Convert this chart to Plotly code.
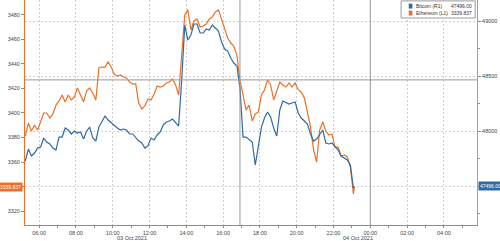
import pandas as pd
import plotly.graph_objects as go

# ---- data ----
start_time = "2021-10-03 05:15"
n_grid = 108
last_time = "2021-10-03 23:08"

eth = [3381.2, 3391.8, 3385.3, 3390.2, 3386.1, 3392.7, 3400.0, 3400.0, 3395.9, 3399.2,
       3406.5, 3409.8, 3414.7, 3409.0, 3414.7, 3410.6, 3413.1, 3420.4, 3414.7, 3409.0,
       3418.0, 3420.4, 3416.3, 3410.6, 3436.7, 3437.5, 3437.5, 3441.6, 3437.5, 3431.8,
       3430.2, 3431.0, 3429.4, 3428.6, 3425.3, 3423.7, 3423.7, 3408.2, 3403.3, 3405.7,
       3411.4, 3410.6, 3415.5, 3422.0, 3421.2, 3422.0, 3424.5, 3425.3, 3427.8, 3422.9,
       3414.7, 3447.3, 3480.0, 3484.1, 3467.8, 3475.1, 3476.7, 3470.2, 3471.0, 3472.6,
       3476.7, 3478.4, 3482.4, 3484.1, 3475.9, 3469.4, 3461.2, 3457.1, 3454.7, 3447.3,
       3426.9, 3414.7, 3402.4, 3406.5, 3393.5, 3399.2, 3400.8, 3414.7, 3418.8, 3426.9,
       3422.9, 3410.6, 3418.8, 3425.3, 3422.9, 3421.2, 3424.5, 3421.2, 3424.5, 3418.8,
       3417.1, 3412.2, 3400.8, 3388.6, 3369.8, 3360.0, 3386.1, 3392.7, 3385.3, 3382.0,
       3382.9, 3372.2, 3372.2, 3364.9, 3365.7, 3364.1, 3355.9, 3333.9, 3339.837]

btc = [47727, 47836, 47773, 47800, 47845, 47855, 47936, 47900, 47882, 47845,
       47827, 47945, 47945, 48027, 48009, 47973, 48000, 47982, 47991, 47927,
       48000, 48036, 47936, 47909, 48036, 48082, 48136, 48100, 48073, 48045,
       48027, 48009, 48018, 48009, 47973, 47973, 47945, 47909, 47891, 47845,
       47864, 47936, 47918, 47964, 47991, 48055, 48082, 48091, 48109, 48073,
       48045, 48464, 48964, 48827, 48873, 48973, 48973, 48891, 48891, 48927,
       48918, 48964, 48936, 48909, 48809, 48745, 48727, 48664, 48618, 48591,
       48391, 47945, 47945, 47918, 47900, 47691, 47864, 48036, 48118, 48173,
       48127, 48027, 47955, 48191, 48273, 48255, 48245, 48255, 48264, 48164,
       48118, 48091, 48064, 47973, 47909, 47927, 47964, 48009, 47891, 47882,
       47891, 47855, 47827, 47773, 47755, 47736, 47691, 47482, 47496.00]

eth_last_label = "3339.837"
btc_last_label = "47496.00"
eth_ticks = [3320, 3340, 3360, 3380, 3400, 3420, 3440, 3460, 3480]
eth_ticktext = ["3320", "", "3360", "3380", "3400", "3420", "3440", "3460", "3480"]  # 3340 hidden under value box
btc_ticks = [47500, 48000, 48500, 49000]
btc_ticktext = ["", "48000", "48500", "49000"]  # 47500 hidden under value box
date_labels = [("2021-10-03 11:03", "03 Oct 2021"), ("2021-10-03 23:20", "04 Oct 2021")]
cross_h_eth = 3427
cross_v = ["2021-10-03 16:55", "2021-10-04 00:00"]
x_range = ["2021-10-03 05:14", "2021-10-04 05:48"]

times = pd.date_range(start_time, periods=n_grid, freq="10min").append(pd.DatetimeIndex([last_time]))

BLUE = "#2f6aa3"
ORANGE = "#ec6f26"
FONT = "Liberation Sans"
TXT = "#444444"
GRID = "#cfcfcf"

fig = go.Figure()
fig.add_trace(go.Scatter(x=times, y=btc, yaxis="y2", mode="lines",
                         line=dict(color=BLUE, width=1.2), name="Bitcoin (R1)"))
fig.add_trace(go.Scatter(x=times, y=eth, yaxis="y", mode="lines",
                         line=dict(color=ORANGE, width=1.2), name="Ethereum (L1)"))

fig.update_layout(
    width=500, height=241,
    margin=dict(l=25, r=23, t=0, b=16),
    paper_bgcolor="white", plot_bgcolor="white",
    showlegend=False,
    font=dict(family=FONT, size=6, color=TXT),
    xaxis=dict(
        type="date", range=x_range,
        tick0="2021-10-03 00:00", dtick=7200000, tickformat="%H:%M",
        showgrid=True, gridcolor=GRID, griddash="2px,2px", gridwidth=1,
        showline=True, linecolor="#8c8c8c", linewidth=1,
        ticks="outside", ticklen=2, tickcolor="#8c8c8c",
        minor=dict(dtick=3600000, ticks="outside", ticklen=2, tickcolor="#8c8c8c", showgrid=False),
        tickfont=dict(size=5.5, color=TXT), zeroline=False,
    ),
    yaxis=dict(
        range=[3308.6, 3492.2], tickvals=eth_ticks, ticktext=eth_ticktext,
        showgrid=False, zeroline=False,
        showline=True, linecolor=ORANGE, linewidth=1,
        ticks="outside", ticklen=3, tickcolor="#8c8c8c",
        tickfont=dict(size=5.5, color=TXT),
    ),
    yaxis2=dict(
        range=[47145.5, 49191], tickvals=btc_ticks, ticktext=btc_ticktext,
        overlaying="y", side="right",
        showgrid=True, gridcolor=GRID, griddash="2px,2px", gridwidth=1,
        zeroline=False, showline=True, linecolor="#8aa4bb", linewidth=1,
        ticks="outside", ticklen=3, tickcolor="#8c8c8c",
        minor=dict(dtick=250, ticks="outside", ticklen=2, tickcolor="#8c8c8c", showgrid=False),
        tickfont=dict(size=5.5, color=TXT),
    ),
)

shapes = []
shapes.append(dict(type="line", xref="paper", yref="y", x0=0, x1=1,
                   y0=cross_h_eth, y1=cross_h_eth, line=dict(color="#9a9a9a", width=1)))
for cv in cross_v:
    shapes.append(dict(type="line", xref="x", yref="paper", x0=cv, x1=cv, y0=0, y1=1,
                       line=dict(color="#9a9a9a", width=1)))
# legend box
shapes.append(dict(type="rect", xref="paper", yref="paper", x0=0.832, x1=0.996, y0=0.92, y1=0.996,
                   line=dict(color="#9a9a9a", width=1), fillcolor="white"))
shapes.append(dict(type="rect", xref="paper", yref="paper", x0=0.849, x1=0.857, y0=0.962, y1=0.984,
                   line=dict(width=0), fillcolor=BLUE))
shapes.append(dict(type="rect", xref="paper", yref="paper", x0=0.849, x1=0.857, y0=0.931, y1=0.953,
                   line=dict(width=0), fillcolor=ORANGE))
fig.update_layout(shapes=shapes)

ann = []
LF = dict(size=5, color="#333")
ann.append(dict(xref="paper", yref="paper", x=0.861, y=0.973, text="Bitcoin (R1)", showarrow=False,
                xanchor="left", yanchor="middle", font=LF))
ann.append(dict(xref="paper", yref="paper", x=0.861, y=0.942, text="Ethereum (L1)", showarrow=False,
                xanchor="left", yanchor="middle", font=LF))
ann.append(dict(xref="paper", yref="paper", x=0.993, y=0.973, text=btc_last_label, showarrow=False,
                xanchor="right", yanchor="middle", font=LF))
ann.append(dict(xref="paper", yref="paper", x=0.993, y=0.942, text=eth_last_label, showarrow=False,
                xanchor="right", yanchor="middle", font=LF))
# last value boxes
ann.append(dict(xref="paper", yref="y", x=0, y=eth[-1], text=eth_last_label, showarrow=False,
                xanchor="right", yanchor="middle", xshift=-2, bgcolor=ORANGE, borderpad=1,
                font=dict(size=5, color="white")))
ann.append(dict(xref="paper", yref="y2", x=1, y=btc[-1], text=btc_last_label, showarrow=False,
                xanchor="left", yanchor="middle", xshift=1, bgcolor=BLUE, borderpad=1,
                font=dict(size=5, color="white")))
for dx, dt in date_labels:
    ann.append(dict(xref="x", yref="paper", x=dx, y=0, text=dt, showarrow=False,
                    xanchor="center", yanchor="middle", yshift=-13, font=dict(size=5.5, color=TXT)))
fig.update_layout(annotations=ann)

fig.write_html("out.html")
